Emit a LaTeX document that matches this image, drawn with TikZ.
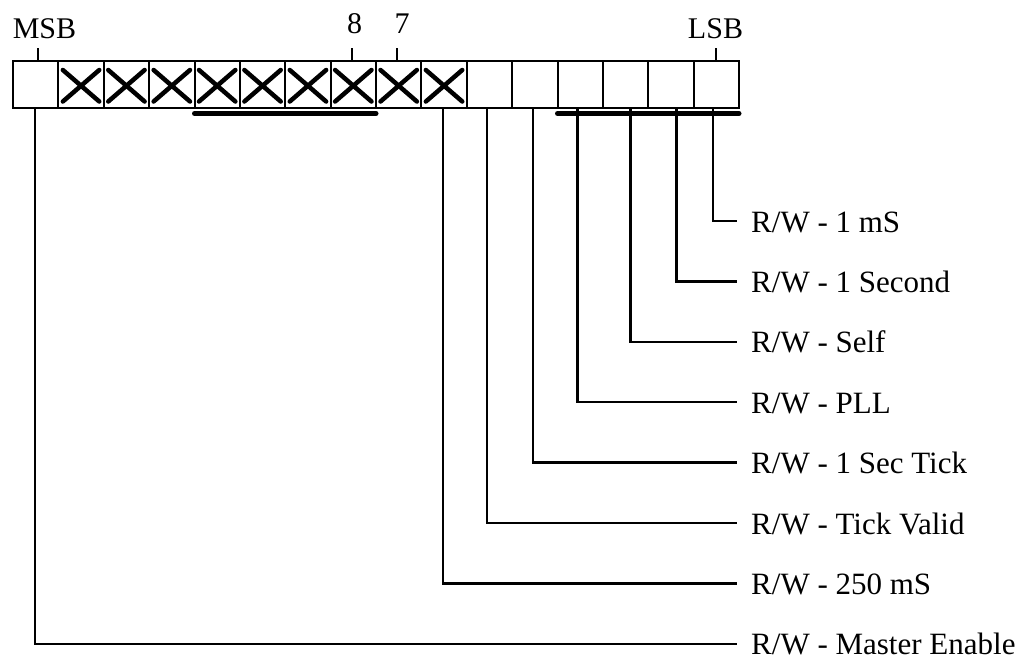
\documentclass[tikz,border=0pt]{standalone}
\usepackage{fontspec}
\setmainfont{Liberation Serif}
\begin{document}
\begin{tikzpicture}[x=1pt,y=-1pt,
  bitbox/.style={draw,line width=2pt,minimum width=45.375pt,minimum height=47pt,inner sep=0pt,outer sep=0pt},
  xmark/.style={line width=4.5pt,line cap=round},
  lead/.style={line width=2.4pt},
  tickline/.style={line width=2.2pt},
  groupbar/.style={line width=5pt,line cap=round},
  lbl/.style={anchor=west,inner xsep=14pt,inner ysep=0pt,text height=22pt,text depth=0pt,font=\fontsize{31}{37}\selectfont},
  toplbl/.style={anchor=base,inner sep=0pt,font=\fontsize{30}{36}\selectfont}]
\useasboundingbox (0,0) rectangle (1025,657);
% boxes
\foreach \i in {0,...,15}{
  \node[bitbox] (b\i) at ({13+45.375*(\i+0.5)},84.5) {};
}
% crosses
\foreach \i in {1,...,9}{
  \draw[xmark] ([xshift=4.5pt,yshift=-9pt]b\i.north west) -- ([xshift=-4.5pt,yshift=6.5pt]b\i.south east);
  \draw[xmark] ([xshift=4.5pt,yshift=6.5pt]b\i.south west) -- ([xshift=-4.5pt,yshift=-9pt]b\i.north east);
}
% top labels
\node[toplbl] (msb) at (44.5,38) {MSB};
\node[toplbl] (n8) at (354.5,33) {8};
\node[toplbl] (n7) at (402,33) {7};
\node[toplbl] (lsb) at (715.5,38) {LSB};
\draw[tickline] ([xshift=2pt]b0.north) -- ++(0,-13);
\draw[tickline] ([xshift=-1.5pt]b7.north) -- ++(0,-13);
\draw[tickline] ([xshift=-2pt]b8.north) -- ++(0,-13);
\draw[tickline] (b15.north) -- ++(0,-13);
% group bars
\draw[groupbar] ([yshift=-5.5pt]b4.south west) -- ([yshift=-5.5pt]b7.south east);
\draw[groupbar] ([yshift=-5.5pt]b12.south west) -- ([yshift=-5.5pt]b15.south east);
% labels
\node[lbl] (l15) at (737,221) {R/W - 1 mS};
\node[lbl] (l14) at (737,281.4) {R/W - 1 Second};
\node[lbl] (l13) at (737,341.8) {R/W - Self};
\node[lbl] (l12) at (737,402.2) {R/W - PLL};
\node[lbl] (l11) at (737,462.6) {R/W - 1 Sec Tick};
\node[lbl] (l10) at (737,523) {R/W - Tick Valid};
\node[lbl] (l9) at (737,583.4) {R/W - 250 mS};
\node[lbl] (l0) at (737,643.8) {R/W - Master Enable};
% leads
\draw[lead] ([xshift=-3.5pt]b15.south) |- (l15.west);
\draw[lead] ([xshift=5.5pt]b14.south) |- (l14.west);
\draw[lead] ([xshift=5pt]b13.south) |- (l13.west);
\draw[lead] ([xshift=-2.5pt]b12.south) |- (l12.west);
\draw[lead] ([xshift=-2pt]b11.south) |- (l11.west);
\draw[lead] ([xshift=-2.5pt]b10.south) |- (l10.west);
\draw[lead] ([xshift=-1.3pt]b9.south) |- (l9.west);
\draw[lead] ([xshift=-0.7pt]b0.south) |- (l0.west);
\end{tikzpicture}
\end{document}
